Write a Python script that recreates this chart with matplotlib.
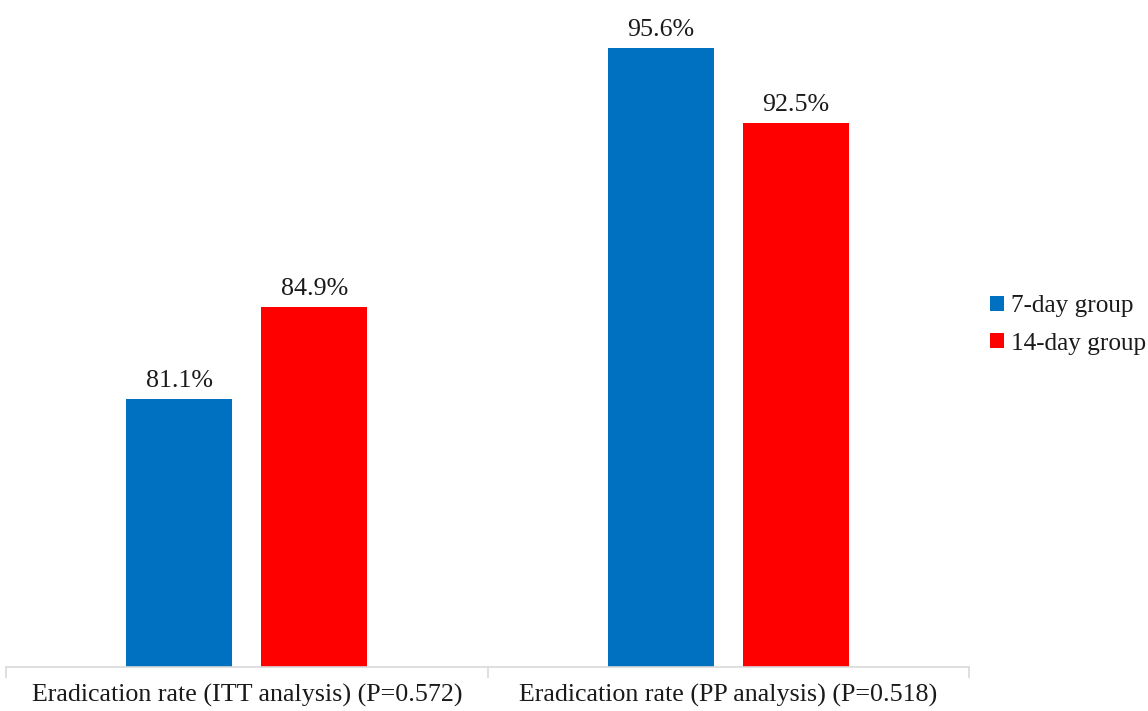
import numpy as np
import matplotlib
matplotlib.use("Agg")
import matplotlib.pyplot as plt

plt.rcParams['font.family'] = ['Liberation Serif', 'DejaVu Serif']

categories = ['Eradication rate (ITT analysis) (P=0.572)',
              'Eradication rate (PP analysis) (P=0.518)']
series_names = ['7-day group', '14-day group']
seven_day = [81.1, 95.6]
fourteen_day = [84.9, 92.5]
colors = ['#0070C0', '#FF0000']

fig = plt.figure(figsize=(11.48, 7.11), dpi=100)
ax = fig.add_axes([6 / 1148, 1 - 667 / 711, 963 / 1148, 667 / 711])

x = np.arange(len(categories))
width = 0.22
offset = 0.14
for vals, off, col, name in zip([seven_day, fourteen_day], [-offset, offset], colors, series_names):
    bars = ax.bar(x + off, vals, width, color=col, label=name, zorder=2)
    for b, v in zip(bars, vals):
        ax.text(b.get_x() + b.get_width() / 2, v + 0.3, f'{v:.1f}%',
                ha='center', va='bottom', fontsize=18.7, color='#1a1a1a')

ax.set_xlim(-0.5, 1.5)
ax.set_ylim(70, 97.6)
ax.set_yticks([])
for s in ['top', 'right', 'left']:
    ax.spines[s].set_visible(False)
ax.spines['bottom'].set_color('#D9D9D9')
ax.spines['bottom'].set_linewidth(1.2)

ax.set_xticks([-0.5, 0.5, 1.5], minor=False)
ax.set_xticklabels([])
ax.tick_params(axis='x', which='major', length=8, color='#D9D9D9', width=1.2)
ax.set_xticks(x, minor=True)
ax.set_xticklabels(categories, minor=True, fontsize=18.7, color='#1a1a1a')
ax.tick_params(axis='x', which='minor', length=0, pad=12)

leg = fig.legend(loc='center left', bbox_to_anchor=(990 / 1148, 1 - 325 / 711), frameon=False,
                 fontsize=18.2, handlelength=0.55, handleheight=0.55, handletextpad=0.3,
                 labelspacing=0.6, borderpad=0, borderaxespad=0)
for t in leg.get_texts():
    t.set_color('#1a1a1a')

fig.savefig('out.png', dpi=100)
